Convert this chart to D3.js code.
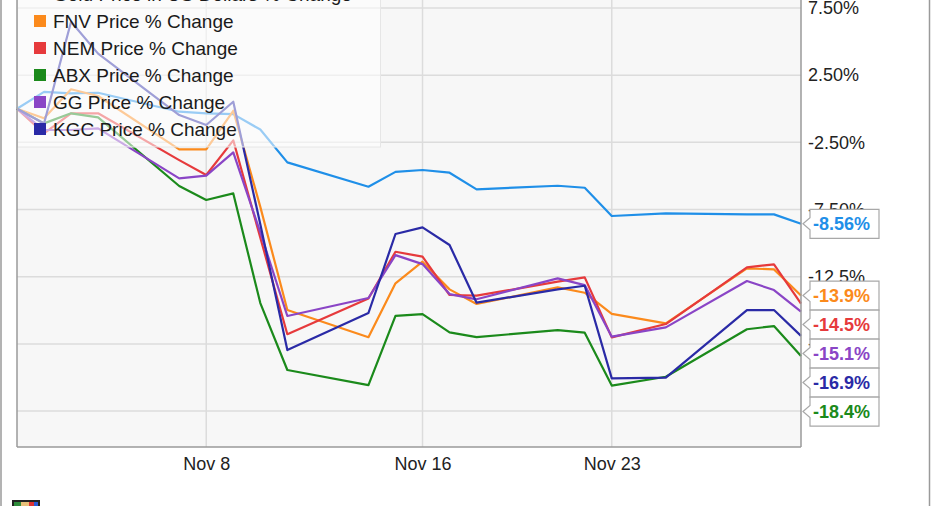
<!DOCTYPE html>
<html>
<head>
<meta charset="utf-8">
<script src="https://cdn.jsdelivr.net/npm/d3@7"></script>
<style>
  html, body { margin: 0; padding: 0; background: #fff; }
  svg { display: block; font-family: "Liberation Sans", Arial, sans-serif; }
</style>
</head>
<body>
<div id="chart"></div>
<script>
// ---- data ----
const dates = ["2016-11-01","2016-11-02","2016-11-03","2016-11-04","2016-11-07","2016-11-08","2016-11-09","2016-11-10","2016-11-11","2016-11-14","2016-11-15","2016-11-16","2016-11-17","2016-11-18","2016-11-21","2016-11-22","2016-11-23","2016-11-25","2016-11-28","2016-11-29","2016-11-30"];
const seriesNames = ["Gold Price in US Dollars % Change","FNV Price % Change","NEM Price % Change","ABX Price % Change","GG Price % Change","KGC Price % Change"];
const goldValues = [0, 1.26, 1.15, 1.19, -0.22, -0.34, -0.40, -1.55, -3.99, -5.80, -4.70, -4.56, -4.76, -6.00, -5.73, -5.88, -7.98, -7.78, -7.86, -7.86, -8.56];
const fnvValues  = [0, -0.71, 1.45, 0.95, -3.02, -3.02, -0.15, -7.3, -14.97, -17.0, -12.99, -11.38, -13.44, -14.53, -13.29, -13.69, -15.27, -15.97, -11.88, -11.95, -13.9];
const nemValues  = [0, -1.83, -0.34, -0.34, -3.82, -4.93, -2.35, -9.6, -16.78, -14.12, -10.64, -11.01, -13.86, -13.91, -12.87, -12.55, -17.01, -16.02, -11.8, -11.58, -14.5];
const abxValues  = [0, -1.09, -0.34, -0.64, -5.75, -6.79, -6.30, -14.46, -19.44, -20.56, -15.42, -15.28, -16.64, -17.0, -16.47, -16.66, -20.6, -19.94, -16.41, -16.17, -18.4];
const ggValues   = [0, -1.58, -1.58, -1.46, -5.18, -4.98, -3.25, -9.2, -15.42, -14.08, -10.89, -11.56, -13.79, -14.18, -12.62, -13.12, -16.96, -16.27, -12.82, -13.49, -15.1];
const kgcValues  = [0, -1.1, 6.47, 4.1, -0.47, -1.21, 0.52, -8.6, -17.96, -15.2, -9.32, -8.83, -10.14, -14.43, -13.44, -13.17, -20.06, -20.01, -14.98, -14.98, -16.9];
const endLabels = ["-8.56%","-13.9%","-14.5%","-18.4%","-15.1%","-16.9%"];
const yTickValues = [7.5, 2.5, -2.5, -7.5, -12.5, -17.5, -22.5];
const yTickLabels = ["7.50%","2.50%","-2.50%","-7.50%","-12.5%","-17.5%","-22.5%"];
const xTickDates = ["2016-11-08","2016-11-16","2016-11-23"];
const xTickLabels = ["Nov 8","Nov 16","Nov 23"];
const colors = ["#1f8fe8","#fb8a1c","#e63a3c","#1b8a1b","#8a45c6","#2a2aa6"];

// ---- layout ----
const W = 931, H = 506;
const plotL = 17, plotR = 801, plotB = 447, plotT = -20;
const parse = d3.utcParse("%Y-%m-%d");
const dts = dates.map(parse);
const allValues = [goldValues, fnvValues, nemValues, abxValues, ggValues, kgcValues];
const series = seriesNames.map((n, i) => ({
  name: n, color: colors[i], label: endLabels[i],
  values: allValues[i].map((v, j) => ({ date: dts[j], value: v }))
}));

const x = d3.scaleUtc().domain([parse("2016-11-01"), parse("2016-11-30")]).range([plotL, plotR]);
const y = d3.scaleLinear().domain([-25.17, 9.58]).range([plotB, plotT]);

const svg = d3.select("#chart").append("svg").attr("width", W).attr("height", H);

// outer frame
svg.append("line").attr("x1", 1).attr("x2", 1).attr("y1", 0).attr("y2", H).attr("stroke", "#9a9a9a").attr("stroke-width", 1.5);
svg.append("line").attr("x1", 929.5).attr("x2", 929.5).attr("y1", 0).attr("y2", H).attr("stroke", "#9a9a9a").attr("stroke-width", 1.5);

// plot background
svg.append("rect").attr("x", plotL).attr("y", plotT).attr("width", plotR - plotL).attr("height", plotB - plotT).attr("fill", "#f7f7f7");

// gridlines
const grid = svg.append("g");
grid.selectAll("line.h").data(yTickValues).join("line")
  .attr("x1", plotL).attr("x2", plotR).attr("y1", d => y(d)).attr("y2", d => y(d))
  .attr("stroke", "#dcdcdc").attr("stroke-width", 1.5);
grid.selectAll("line.v").data(xTickDates.map(parse)).join("line")
  .attr("x1", d => x(d)).attr("x2", d => x(d)).attr("y1", plotT).attr("y2", plotB)
  .attr("stroke", "#dcdcdc").attr("stroke-width", 1.5);

// lines
const line = d3.line().x(d => x(d.date)).y(d => y(d.value));
svg.append("g").selectAll("path").data(series).join("path")
  .attr("d", d => line(d.values)).attr("fill", "none")
  .attr("stroke", d => d.color).attr("stroke-width", 2.2).attr("stroke-linejoin", "round");

// legend (semi-transparent)
const legend = svg.append("g");
legend.append("rect").attr("x", plotL + 0.5).attr("y", -20).attr("width", 363).attr("height", 167)
  .attr("fill", "rgba(255,255,255,0.55)").attr("stroke", "#e6e6e6");
const rowY = i => -6 + i * 27;
legend.selectAll("rect.sw").data(series).join("rect")
  .attr("x", 34).attr("y", (d, i) => rowY(i) - 6).attr("width", 12).attr("height", 12)
  .attr("fill", d => d.color);
legend.selectAll("text").data(series).join("text")
  .attr("x", 53).attr("y", (d, i) => rowY(i)).attr("dy", "0.36em")
  .attr("font-size", 19).attr("fill", "#1a1a1a").text(d => d.name);

// plot frame
svg.append("line").attr("x1", plotL).attr("x2", plotL).attr("y1", plotT).attr("y2", plotB).attr("stroke", "#9a9a9a").attr("stroke-width", 1.5);
svg.append("line").attr("x1", plotL).attr("x2", plotR).attr("y1", plotB).attr("y2", plotB).attr("stroke", "#9a9a9a").attr("stroke-width", 1.5);
svg.append("line").attr("x1", plotR).attr("x2", plotR).attr("y1", plotT).attr("y2", plotB).attr("stroke", "#9a9a9a").attr("stroke-width", 1.5);

// right axis
const yAxis = d3.axisRight(y).tickValues(yTickValues).tickFormat((d, i) => yTickLabels[i]).tickSize(0).tickPadding(7);
const gy = svg.append("g").attr("transform", `translate(${plotR},0)`).call(yAxis);
gy.select(".domain").remove();
gy.selectAll("text").attr("font-size", 18).attr("fill", "#222").attr("font-family", "Liberation Sans, Arial, sans-serif");

// bottom axis
const xAxis = d3.axisBottom(x).tickValues(xTickDates.map(parse)).tickFormat((d, i) => xTickLabels[i]).tickSize(0).tickPadding(10);
const gx = svg.append("g").attr("transform", `translate(0,${plotB})`).call(xAxis);
gx.select(".domain").remove();
gx.selectAll("text").attr("font-size", 18).attr("fill", "#222").attr("font-family", "Liberation Sans, Arial, sans-serif");

// end value labels with collision avoidance
const boxH = 29;
const ends = series.map(s => ({ s, yi: y(s.values[s.values.length - 1].value) })).sort((a, b) => a.yi - b.yi);
let prev = -Infinity;
ends.forEach(e => { e.cy = Math.max(e.yi, prev + boxH); prev = e.cy; });
const lab = svg.append("g");
ends.forEach(e => {
  const top = e.cy - boxH / 2, bot = e.cy + boxH / 2;
  const bx = 810, bw = 69;
  lab.append("path")
    .attr("d", `M803,${e.cy} L${bx},${e.cy - 6} L${bx},${top} L${bx + bw},${top} L${bx + bw},${bot} L${bx},${bot} L${bx},${e.cy + 6} Z`)
    .attr("fill", "#fff").attr("stroke", "#a8a8a8").attr("stroke-width", 1.2);
  lab.append("text").attr("x", 813).attr("y", e.cy).attr("dy", "0.36em")
    .attr("font-size", 18).attr("font-weight", "bold").attr("fill", e.s.color).text(e.s.label);
});

// small logo at bottom-left (partially visible)
const logo = svg.append("g").attr("transform", "translate(12,500)");
logo.append("rect").attr("width", 28).attr("height", 8).attr("fill", "#222");
logo.append("rect").attr("x", 2).attr("y", 2).attr("width", 7).attr("height", 6).attr("fill", "#2e8b3a");
logo.append("rect").attr("x", 9).attr("y", 2).attr("width", 8).attr("height", 6).attr("fill", "#e8c07a");
logo.append("rect").attr("x", 17).attr("y", 2).attr("width", 5).attr("height", 6).attr("fill", "#d33");
logo.append("rect").attr("x", 22).attr("y", 2).attr("width", 4).attr("height", 6).attr("fill", "#2a5bd7");
</script>
</body>
</html>
